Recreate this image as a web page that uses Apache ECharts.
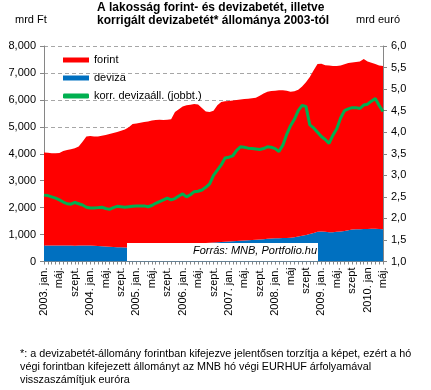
<!DOCTYPE html>
<html><head><meta charset="utf-8">
<script src="https://cdn.jsdelivr.net/npm/echarts@6/dist/echarts.min.js"></script>
<style>html,body{margin:0;padding:0;background:#fff}#c{width:431px;height:390px}</style>
</head><body><div id="c"></div>
<script>
// Monthly categories, Jan 2003 - May 2010 (labels shown every 4th month)
var categories = [
 "2003. jan.","febr.","márc.","ápr.","máj.","jún.","júl.","aug.","szept.","okt.","nov.","dec.",
 "2004. jan.","febr.","márc.","ápr.","máj.","jún.","júl.","aug.","szept.","okt.","nov.","dec.",
 "2005. jan.","febr.","márc.","ápr.","máj.","jún.","júl.","aug.","szept.","okt.","nov.","dec.",
 "2006. jan.","febr.","márc.","ápr.","máj.","jún.","júl.","aug.","szept.","okt.","nov.","dec.",
 "2007. jan.","febr.","márc.","ápr.","máj.","jún.","júl.","aug.","szept.","okt.","nov.","dec.",
 "2008. jan.","febr.","márc.","ápr.","máj","jún.","júl.","aug.","szept","okt.","nov.","dec.",
 "2009. jan.","febr.","márc.","ápr.","máj.","jún.","júl.","aug.","szept","okt.","nov.","dec.",
 "2010. jan","febr.","márc.","ápr.","máj."
];
// total deposits (forint + deviza), mrd Ft
var total = [
 4050,4040,4020,4015,4025,4100,4140,4170,4200,4270,4450,4640,
 4660,4640,4640,4670,4700,4730,4770,4810,4850,4900,4980,5100,
 5120,5150,5180,5200,5230,5250,5260,5250,5260,5280,5550,5650,
 5750,5800,5820,5850,5830,5700,5570,5550,5600,5800,5920,5950,
 5960,5980,6000,6010,6030,6040,6060,6080,6150,6240,6300,6330,
 6340,6360,6360,6340,6300,6320,6380,6500,6650,6850,7100,7330,
 7340,7290,7280,7260,7260,7280,7320,7370,7390,7410,7420,7520,
 7420,7380,7330,7280,7260
];
// deviza (FX deposits), mrd Ft
var deviza = [
 590,590,592,594,596,595,592,590,588,590,592,594,
 590,585,575,565,555,545,538,530,525,520,515,520,
 525,530,540,550,560,570,580,590,600,610,620,630,
 640,650,660,665,670,680,690,700,705,710,720,730,
 740,750,760,770,780,790,800,810,820,830,840,850,
 860,865,870,875,880,900,930,960,985,1020,1060,1100,
 1110,1100,1090,1090,1100,1110,1130,1160,1190,1200,1200,1205,
 1210,1215,1215,1210,1200
];
// corrected FX deposits, mrd euró (right axis)
var korr = [
 2.54,2.53,2.50,2.47,2.43,2.38,2.34,2.33,2.37,2.34,2.31,2.26,
 2.24,2.24,2.25,2.26,2.23,2.21,2.25,2.28,2.27,2.26,2.27,2.28,
 2.29,2.29,2.29,2.27,2.30,2.35,2.39,2.43,2.47,2.43,2.46,2.52,
 2.57,2.50,2.55,2.62,2.63,2.66,2.72,2.80,3.00,3.12,3.24,3.40,
 3.42,3.45,3.58,3.66,3.65,3.63,3.62,3.61,3.60,3.62,3.66,3.65,
 3.62,3.55,3.70,3.95,4.15,4.30,4.50,4.62,4.60,4.17,4.10,4.00,
 3.90,3.83,3.74,3.93,4.08,4.33,4.50,4.54,4.57,4.57,4.55,4.63,
 4.65,4.72,4.78,4.62,4.48
];
var forint = total.map(function(t,i){return t - deviza[i];});

var FONT = 'Liberation Sans, Arial, sans-serif';
var chart = echarts.init(document.getElementById('c'));
chart.setOption({
  animation:false,
  backgroundColor:'#fff',
  textStyle:{fontFamily:FONT},
  grid:{left:44,right:48,top:46,bottom:128.5},
  legend:{
    left:58, top:49, orient:'vertical', itemGap:6, itemWidth:26, itemHeight:5,
    textStyle:{fontSize:11,color:'#000',fontFamily:FONT,lineHeight:12},
    data:[
      {name:'forint',icon:'rect'},
      {name:'deviza',icon:'rect'},
      {name:'korr. devizaáll. (jobbt.)',icon:'roundRect'}
    ]
  },
  xAxis:{
    type:'category', data:categories, boundaryGap:false,
    axisLine:{lineStyle:{color:'#868686'}},
    axisTick:{interval:0,length:3,lineStyle:{color:'#868686'}},
    axisLabel:{interval:3,rotate:90,fontSize:11,color:'#000',margin:6,fontFamily:FONT}
  },
  yAxis:[
    {type:'value',min:0,max:8000,interval:1000,
     axisLine:{show:true,lineStyle:{color:'#868686'}},
     axisTick:{show:true,length:4,lineStyle:{color:'#868686'}},
     axisLabel:{fontSize:11,color:'#000',margin:8,fontFamily:FONT},
     splitLine:{show:true,lineStyle:{color:'#a6a6a6',type:[4,3]}}},
    {type:'value',min:1,max:6,interval:0.5,
     axisLine:{show:true,lineStyle:{color:'#868686'}},
     axisTick:{show:true,length:4,lineStyle:{color:'#868686'}},
     axisLabel:{fontSize:11,color:'#000',margin:8,fontFamily:FONT,
       formatter:function(v){return v.toFixed(1).replace('.',',');}},
     splitLine:{show:false}}
  ],
  series:[
    {name:'deviza',type:'line',stack:'a',data:deviza,showSymbol:false,
     lineStyle:{width:0},itemStyle:{color:'#0070c0'},areaStyle:{color:'#0070c0',opacity:1}},
    {name:'forint',type:'line',stack:'a',data:forint,showSymbol:false,
     lineStyle:{width:0},itemStyle:{color:'#ff0000'},areaStyle:{color:'#ff0000',opacity:1}},
    {name:'korr. devizaáll. (jobbt.)',type:'line',yAxisIndex:1,data:korr,showSymbol:false,
     lineStyle:{width:3,color:'#00b050'},itemStyle:{color:'#00b050'}}
  ],
  graphic:[
    {type:'text',left:97,top:1,z:100,style:{text:'A lakosság forint- és devizabetét, illetve\nkorrigált devizabetét* állománya 2003-tól',
      font:'bold 12px '+FONT,fill:'#000',lineHeight:13}},
    {type:'text',left:15,top:14,z:100,style:{text:'mrd Ft',font:'11px '+FONT,fill:'#000'}},
    {type:'text',left:356,top:14,z:100,style:{text:'mrd euró',font:'11px '+FONT,fill:'#000'}},
    {type:'rect',z:100,shape:{x:127,y:243,width:191,height:18},style:{fill:'#fff'}},
    {type:'text',z:101,left:193,top:245,style:{text:'Forrás: MNB, Portfolio.hu',font:'italic 11px '+FONT,fill:'#000'}},
    {type:'text',left:20,top:348,z:100,style:{text:'*: a devizabetét-állomány forintban kifejezve jelentősen torzítja a képet, ezért a hó\nvégi forintban kifejezett állományt az MNB hó végi EURHUF árfolyamával\nvisszaszámítjuk euróra',
      font:'10.8px '+FONT,fill:'#000',lineHeight:13}}
  ]
});
</script></body></html>
